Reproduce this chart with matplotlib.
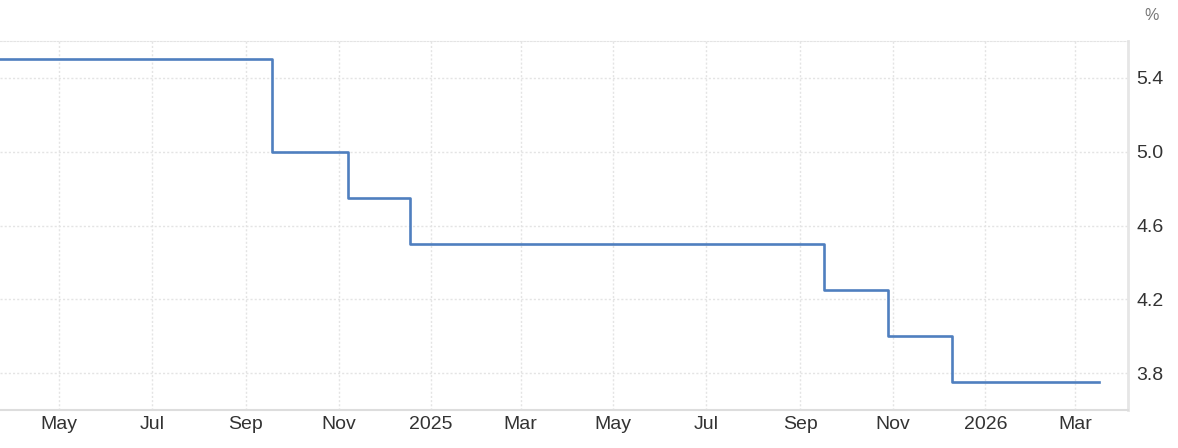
import matplotlib
matplotlib.use("Agg")
import matplotlib.pyplot as plt
import matplotlib.dates as mdates
import pandas as pd

plt.rcParams['font.family'] = ['Liberation Sans', 'DejaVu Sans']

# Rate decisions (upper bound, %)
dates = ["2024-03-23", "2024-09-18", "2024-11-07", "2024-12-18",
         "2025-09-17", "2025-10-29", "2025-12-10", "2026-03-17"]
rates = [5.50, 5.00, 4.75, 4.50, 4.25, 4.00, 3.75, 3.75]
y_ticks = [3.8, 4.2, 4.6, 5.0, 5.4]

x = pd.to_datetime(dates)

fig = plt.figure(figsize=(11.78, 4.48), dpi=100)
ax = fig.add_axes([0.0, 0.0848, 0.9576, 0.8237])

ax.plot(x, rates, drawstyle="steps-post", color="#4f7fbf", lw=1.9)

ax.set_xlim(pd.Timestamp("2024-03-23"), pd.Timestamp("2026-04-05"))
ax.set_ylim(3.6, 5.6)

ax.xaxis.set_major_locator(mdates.MonthLocator(bymonth=[1, 3, 5, 7, 9, 11]))
ax.xaxis.set_major_formatter(plt.FuncFormatter(
    lambda v, pos: mdates.num2date(v).strftime("%Y") if mdates.num2date(v).month == 1
    else mdates.num2date(v).strftime("%b")))

ax.yaxis.tick_right()
ax.set_yticks(y_ticks)
ax.set_yticklabels([f"{t:.1f}" for t in y_ticks])

ax.tick_params(axis="both", length=0, labelsize=14, colors="#333333")
ax.tick_params(axis="x", pad=4)
ax.tick_params(axis="y", pad=6)

ax.grid(True, color="#e4e4e4", linestyle=(0, (1.5, 1.5)), lw=1)
ax.set_axisbelow(True)

ax.spines["left"].set_visible(False)
ax.spines["top"].set_color("#e4e4e4")
ax.spines["top"].set_linestyle((0, (1.5, 1.5)))
ax.spines["bottom"].set_color("#dddddd")
ax.spines["bottom"].set_linewidth(1.5)
ax.spines["right"].set_color("#e6e6e6")
ax.spines["right"].set_linewidth(2)

fig.text(0.9775, 0.965, "%", ha="center", va="center", fontsize=11.5, color="#777777")

fig.savefig("out.png", dpi=100)
